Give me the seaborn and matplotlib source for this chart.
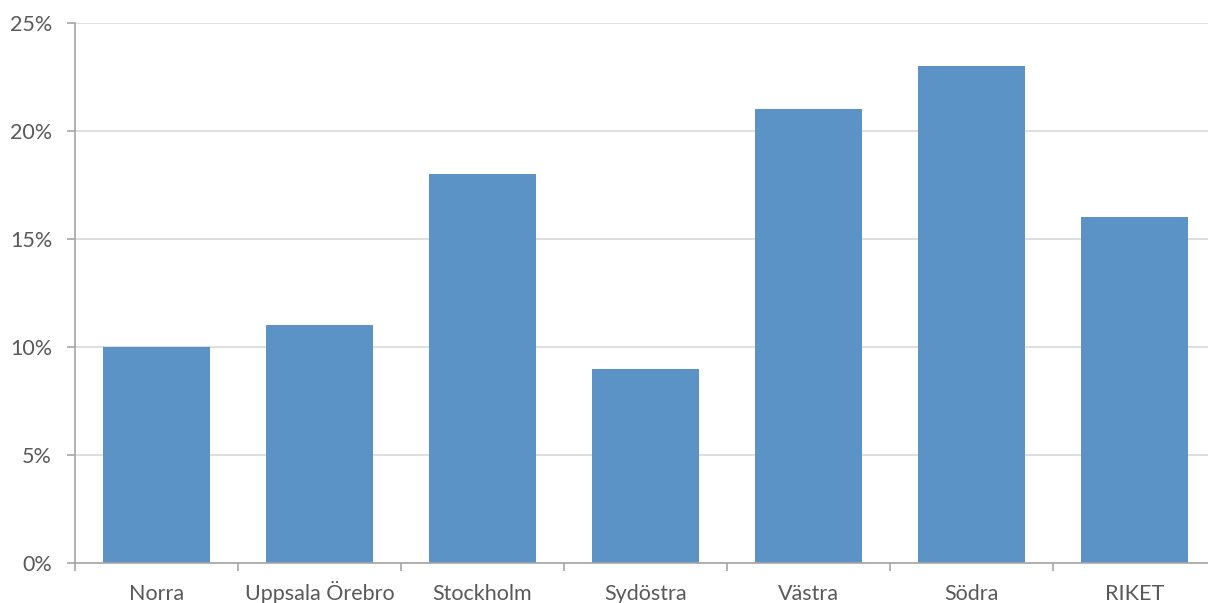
import matplotlib
matplotlib.use("Agg")
import matplotlib.pyplot as plt
import seaborn as sns
import pandas as pd
import numpy as np
from matplotlib.ticker import PercentFormatter, FixedLocator

categories = ["Norra", "Uppsala Örebro", "Stockholm", "Sydöstra", "Västra", "Södra", "RIKET"]
values = [0.10, 0.11, 0.18, 0.09, 0.21, 0.23, 0.16]

sns.set_theme(style="white")
plt.rcParams['font.family'] = ['Lato', 'DejaVu Sans']

df = pd.DataFrame({"region": categories, "share": values})

fig = plt.figure(figsize=(12.08, 6.03), dpi=100)
ax = fig.add_axes([75/1208, 40/603, 1141/1208, 540/603])

sns.barplot(data=df, x="region", y="share", color="#5B93C6", width=0.66,
            saturation=1, ax=ax, edgecolor="none")

ax.set_xlim(-0.5, len(categories) - 0.5)
ax.set_ylim(0, 0.25)
ax.set_yticks(np.arange(0, 0.2501, 0.05))
ax.yaxis.set_major_formatter(PercentFormatter(1.0, decimals=0))
ax.grid(axis="y", color="#D9D9D9", linewidth=1.2)
ax.set_axisbelow(True)

for s in ["top", "right"]:
    ax.spines[s].set_visible(False)
for s in ["left", "bottom"]:
    ax.spines[s].set_color("#A6A6A6")
    ax.spines[s].set_linewidth(1.2)

ax.set_xlabel("")
ax.set_ylabel("")
ax.tick_params(axis="x", which="major", length=0, labelsize=15.5, labelcolor="#595959", pad=26.5)
for lbl in ax.get_xticklabels():
    lbl.set_verticalalignment("baseline")
ax.xaxis.set_minor_locator(FixedLocator(np.arange(-0.5, len(categories), 1.0)))
ax.tick_params(axis="x", which="minor", length=6, color="#A6A6A6", width=1.2, bottom=True)
ax.tick_params(axis="y", which="major", length=6, color="#A6A6A6", width=1.2, left=True,
               labelsize=15.5, labelcolor="#595959", pad=10.5)

fig.savefig("out.png", dpi=100)
